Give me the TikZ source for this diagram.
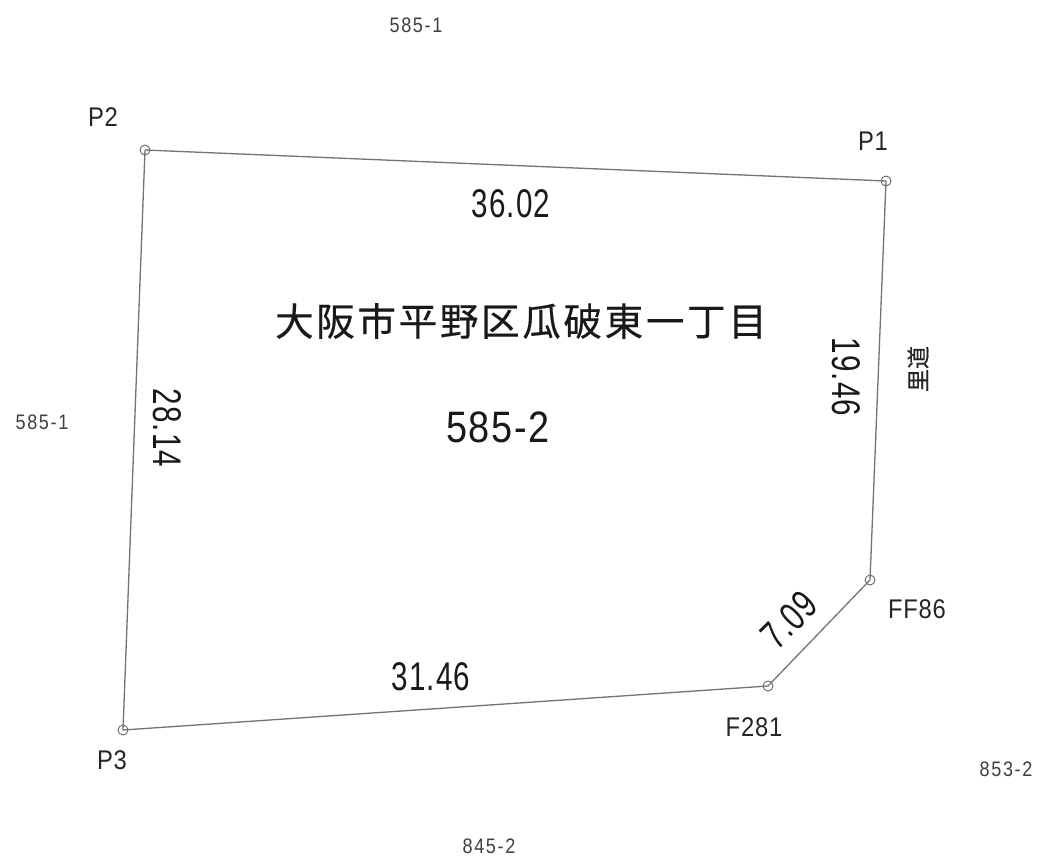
\documentclass[tikz,border=0pt]{standalone}
\usepackage{fontspec}
\newfontfamily\numf[FakeStretch=0.74,LetterSpace=2.5]{Liberation Sans}
\newfontfamily\statf[FakeStretch=0.88,LetterSpace=3]{Liberation Sans}
\newfontfamily\smallf[FakeStretch=0.86,LetterSpace=8]{Liberation Sans}
\newfontfamily\parcelf[FakeStretch=0.86,LetterSpace=4]{Liberation Sans}
\newfontfamily\cjk[FakeBold=0.4,LetterSpace=7]{Noto Sans CJK JP}
\newfontfamily\cjksmall[FakeBold=0.3]{Noto Sans CJK JP}
\tikzset{
  pt/.style={circle,draw=black!60,line width=0.9pt,minimum size=10pt,inner sep=0pt},
  bound/.style={draw=black!55,line width=1.3pt},
  small/.style={font=\smallf\fontsize{21}{21}\selectfont,text=black!75,inner sep=0pt},
  station/.style={font=\statf\fontsize{27}{27}\selectfont,text=black!85,inner sep=0pt},
  dim/.style={font=\numf\fontsize{40}{40}\selectfont,text=black!90,inner sep=0pt},
  title/.style={font=\cjk\fontsize{38.5}{38.5}\selectfont,text=black!90,inner sep=0pt},
}
\begin{document}
\begin{tikzpicture}[x=1pt,y=-1pt]
\useasboundingbox (0,0) rectangle (1041,857);
\fill[white] (0,0) rectangle (1041,857);
\node[pt] (P1) at (886,181) {};
\node[pt] (P2) at (145,150) {};
\node[pt] (P3) at (123,730) {};
\node[pt] (F281) at (768,686) {};
\node[pt] (FF86) at (870,580) {};
\draw[bound] (P2.center) -- (P1.center) -- (FF86.center) -- (F281.center) -- (P3.center) -- (P2.center);
\node[small] (a1) at (416,25) {585-1};
\node[small] (a2) at (42,422) {585-1};
\node[small] (a3) at (1006,769) {853-2};
\node[small] (a4) at (489,846) {845-2};
\node[station] (lP2) at (103,117) {P2};
\node[station] (lP1) at (873,141) {P1};
\node[station] (lP3) at (112,760) {P3};
\node[station] (lF) at (754,727) {F281};
\node[station] (lFF) at (917,609) {FF86};
\node[dim] (d1) at (511,204) {36.02};
\node[dim,rotate=-90] (d2) at (846,377) {19.46};
\node[dim,rotate=-90] (d3) at (167,428) {28.14};
\node[dim] (d4) at (431,677) {31.46};
\node[dim,rotate=45] (d5) at (789,620) {7.09};
\node[title] (t) at (521,321) {大阪市平野区瓜破東一丁目};
\node[dim,font=\parcelf\fontsize{44}{44}\selectfont] (n) at (498,427) {585-2};
\node[font=\cjksmall\fontsize{23}{23}\selectfont,text=black!85,inner sep=0pt,rotate=90] (r) at (918,369) {里道};
\end{tikzpicture}
\end{document}
